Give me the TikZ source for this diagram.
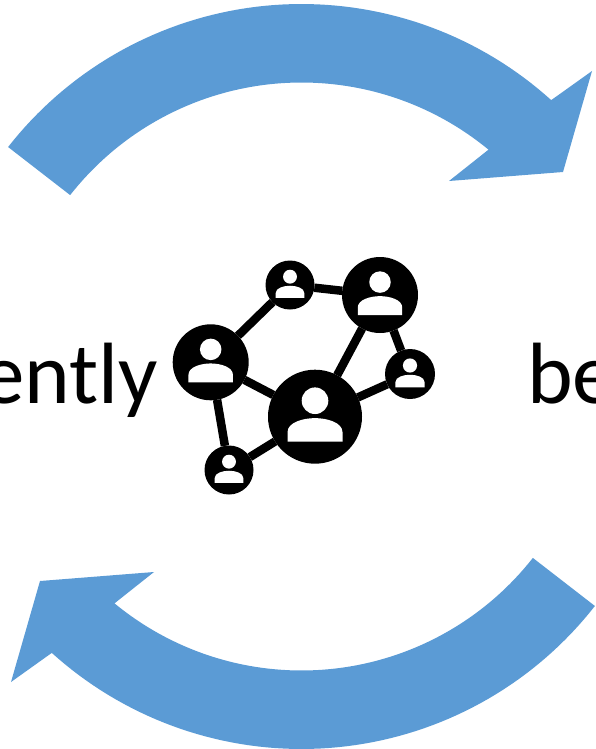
\documentclass[tikz,border=0pt]{standalone}
\usepackage{fontspec}
\setmainfont{Carlito}
\definecolor{arrowblue}{HTML}{5B9BD5}
\tikzset{
  member/.style={circle,fill=black,inner sep=0pt,outer sep=0pt,minimum size=#1},
  link/.style={draw=black,line width=8.5pt},
  bigword/.style={inner sep=0pt,font=\fontsize{87}{90}\selectfont,text=black},
  cycle arrow/.style={fill=arrowblue,draw=none}
}
\newcommand{\personicon}[2]{%
  \begin{scope}[shift={(#1.center)},scale=#2]
    \fill[white] (0,-.34) circle (.283);
    \fill[white] (-.585,.53) -- (-.585,.33) .. controls (-.585,.12) and (-.25,.03) .. (0,.03)
      .. controls (.25,.03) and (.585,.12) .. (.585,.33) -- (.585,.53) -- cycle;
  \end{scope}}
\newcommand{\cyclearrow}{%
  \fill[cycle arrow]
    plot[domain=218.03:312.1,samples=70] ({301.5+372.5*cos(\x)},{376.5+372.5*sin(\x)})
    -- (592,71) -- (563,172) -- (449,181)
    -- plot[domain=309.5:218.1,samples=70] ({301.5+294*cos(\x)},{376.5+294*sin(\x)})
    -- cycle;}
\begin{document}
\begin{tikzpicture}[x=1pt,y=-1pt]
  \useasboundingbox (0,0) rectangle (596,749);
  \clip (0,0) rectangle (596,749);
  \cyclearrow
  \begin{scope}[rotate around={180:(301.5,376.5)}]
    \cyclearrow
  \end{scope}
  \node[bigword,anchor=base east] (leftword) at (158,403) {ently};
  \node[bigword,anchor=base west] (rightword) at (527,403) {be};
  \node[member=94pt] (hub) at (315,416.7) {};
  \node[member=76pt] (west) at (210.7,362.3) {};
  \node[member=76pt] (northeast) at (380,295) {};
  \node[member=49pt] (north) at (290,285) {};
  \node[member=50pt] (east) at (410,374) {};
  \node[member=49pt] (south) at (229,470) {};
  \draw[link] (west) -- (north);
  \draw[link] (north) -- (northeast);
  \draw[link] (northeast) -- (hub);
  \draw[link] (northeast) -- (east);
  \draw[link] (east) -- (hub);
  \draw[link] (hub) -- (west);
  \draw[link] (west) -- (south);
  \draw[link] (south) -- (hub);
  \personicon{hub}{47}
  \personicon{west}{38}
  \personicon{northeast}{38}
  \personicon{north}{24.5}
  \personicon{east}{25}
  \personicon{south}{24.5}
\end{tikzpicture}
\end{document}
